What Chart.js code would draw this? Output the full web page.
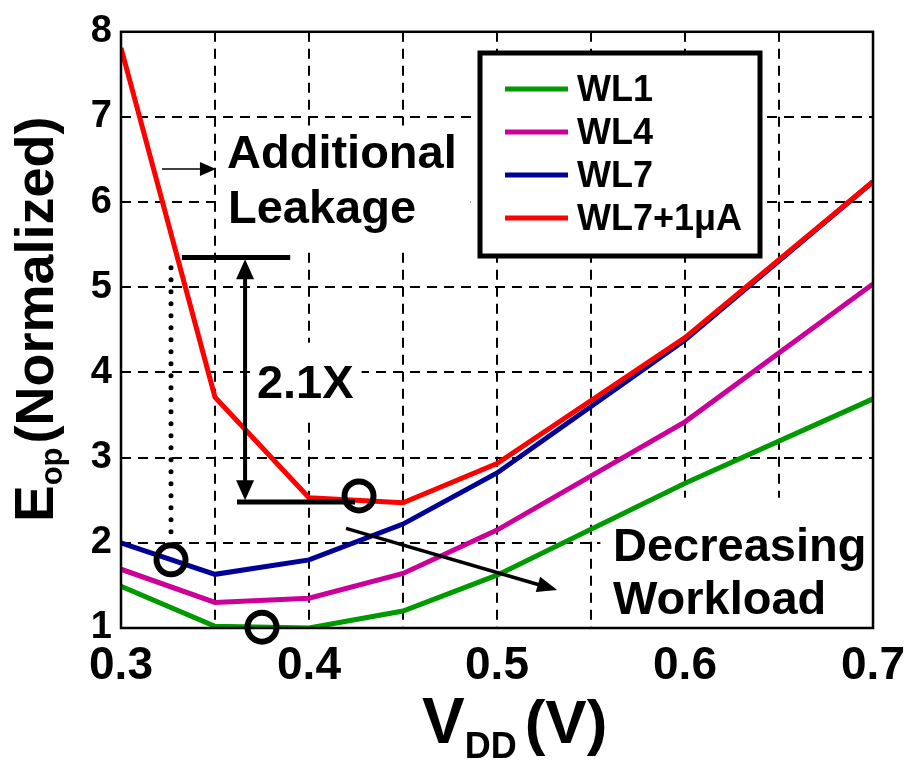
<!DOCTYPE html>
<html>
<head>
<meta charset="utf-8">
<script src="https://cdn.jsdelivr.net/npm/chart.js@4.4.1/dist/chart.umd.min.js"></script>
<style>
  body { margin: 0; background: #fff; }
  canvas { display: block; }
</style>
</head>
<body>
<canvas id="chart" width="922" height="760"></canvas>
<script>
// supply voltage (V)
const vdd = [0.3, 0.35, 0.4, 0.45, 0.5, 0.6, 0.7];
// normalized energy per operation
const wl1 = [1.49, 1.02, 1.00, 1.20, 1.62, 2.70, 3.69];
const wl4 = [1.69, 1.30, 1.35, 1.64, 2.15, 3.42, 5.04];
const wl7 = [2.00, 1.63, 1.80, 2.22, 2.82, 4.38, 6.24];
const wl7leak = [7.81, 3.71, 2.53, 2.47, 2.93, 4.41, 6.24];

const seriesNames = ['WL1', 'WL4', 'WL7', 'WL7+1\u03bcA'];
const seriesColors = ['#009900', '#cc0099', '#000099', '#ff0000'];
const xTicks = [0.3, 0.4, 0.5, 0.6, 0.7];

const FONT = '"Liberation Sans", Arial, sans-serif';

const toPoints = ys => ys.map((y, i) => ({ x: vdd[i], y: y }));

// white boxes behind the notes (data units: x1, x2, y1, y2)
const noteBoxes = [
  [0.352, 0.486, 6.9, 5.45],
  [0.369, 0.428, 4.35, 3.44],
  [0.555, 0.7, 2.53, 1.0]
];

function arrowHead(ctx, x1, y1, x2, y2, len, half) {
  const a = Math.atan2(y2 - y1, x2 - x1);
  ctx.beginPath();
  ctx.moveTo(x2, y2);
  ctx.lineTo(x2 - len * Math.cos(a) + half * Math.sin(a), y2 - len * Math.sin(a) - half * Math.cos(a));
  ctx.lineTo(x2 - len * Math.cos(a) - half * Math.sin(a), y2 - len * Math.sin(a) + half * Math.cos(a));
  ctx.closePath();
  ctx.fill();
}

const overlay = {
  id: 'overlay',
  beforeDatasetsDraw(chart) {
    const ctx = chart.ctx, sx = chart.scales.x, sy = chart.scales.y;
    ctx.save();
    ctx.fillStyle = '#fff';
    noteBoxes.forEach(b => {
      const x1 = sx.getPixelForValue(b[0]), x2 = sx.getPixelForValue(b[1]);
      const y1 = sy.getPixelForValue(b[2]), y2 = sy.getPixelForValue(b[3]);
      ctx.fillRect(x1, y1, x2 - x1, y2 - y1);
    });
    ctx.restore();
  },
  afterDatasetsDraw(chart) {
    const ctx = chart.ctx, sx = chart.scales.x, sy = chart.scales.y;
    const X = v => sx.getPixelForValue(v), Y = v => sy.getPixelForValue(v);
    const area = chart.chartArea;
    ctx.save();
    ctx.strokeStyle = '#000';
    ctx.fillStyle = '#000';

    // frame
    ctx.lineWidth = 2.5;
    ctx.strokeRect(area.left, area.top, area.right - area.left, area.bottom - area.top);

    // small arrow to "Additional Leakage"
    ctx.lineWidth = 1.5;
    ctx.beginPath();
    ctx.moveTo(X(0.3218), Y(6.39));
    ctx.lineTo(X(0.345), Y(6.39));
    ctx.stroke();
    arrowHead(ctx, X(0.3218), Y(6.39), X(0.3505), Y(6.39), 16, 7);

    // 2.1X bracket
    ctx.lineWidth = 5;
    ctx.beginPath();
    ctx.moveTo(X(0.3324), Y(5.35));
    ctx.lineTo(X(0.39), Y(5.35));
    ctx.moveTo(X(0.3617), Y(2.48));
    ctx.lineTo(X(0.4245), Y(2.48));
    ctx.stroke();
    ctx.lineWidth = 4;
    ctx.beginPath();
    ctx.moveTo(X(0.366), Y(5.1));
    ctx.lineTo(X(0.366), Y(2.7));
    ctx.stroke();
    arrowHead(ctx, X(0.366), Y(4), X(0.366), Y(5.33), 20, 9);
    arrowHead(ctx, X(0.366), Y(4), X(0.366), Y(2.50), 20, 9);

    // dotted drop line
    ctx.lineWidth = 5;
    ctx.lineCap = 'round';
    ctx.setLineDash([0, 12]);
    ctx.beginPath();
    ctx.moveTo(X(0.3266), Y(5.23));
    ctx.lineTo(X(0.3266), Y(2.11));
    ctx.stroke();
    ctx.setLineDash([]);
    ctx.lineCap = 'butt';

    // circles marking the optimum points
    ctx.lineWidth = 6;
    [[0.4266, 2.55], [0.3266, 1.8], [0.375, 1.01]].forEach(c => {
      ctx.beginPath();
      ctx.arc(X(c[0]), Y(c[1]), 14.5, 0, Math.PI * 2);
      ctx.stroke();
    });

    // decreasing workload arrow
    ctx.lineWidth = 3.5;
    ctx.beginPath();
    ctx.moveTo(X(0.4197), Y(2.17));
    ctx.lineTo(X(0.525), Y(1.49));
    ctx.stroke();
    arrowHead(ctx, X(0.4197), Y(2.17), X(0.532), Y(1.446), 20, 8);

    // notes
    ctx.font = 'bold 47px ' + FONT;
    ctx.textAlign = 'left';
    ctx.textBaseline = 'alphabetic';
    ctx.fillText('Additional', X(0.3564), Y(6.405));
    ctx.fillText('Leakage', X(0.3569), Y(5.76));
    ctx.fillText('2.1X', X(0.3723), Y(3.697));
    ctx.fillText('Decreasing', X(0.5617), Y(1.786));
    ctx.fillText('Workload', X(0.5617), Y(1.16));

    // legend
    const lx1 = 480, ly1 = 53, lx2 = 760, ly2 = 256;
    ctx.fillStyle = '#fff';
    ctx.fillRect(lx1, ly1, lx2 - lx1, ly2 - ly1);
    ctx.lineWidth = 5;
    ctx.strokeRect(lx1, ly1, lx2 - lx1, ly2 - ly1);
    ctx.font = 'bold 36px ' + FONT;
    ctx.textBaseline = 'middle';
    chart.data.datasets.forEach((ds, i) => {
      const yy = 89 + i * 43;
      ctx.strokeStyle = ds.borderColor;
      ctx.lineWidth = 5;
      ctx.beginPath();
      ctx.moveTo(505, yy);
      ctx.lineTo(568, yy);
      ctx.stroke();
      ctx.fillStyle = '#000';
      ctx.fillText(ds.label, 577, yy + 2);
    });

    // axis titles
    ctx.fillStyle = '#000';
    ctx.textBaseline = 'alphabetic';
    ctx.font = 'bold 64px ' + FONT;
    let tx = 422;
    ctx.fillText('V', tx, 743);
    tx += ctx.measureText('V').width;
    ctx.font = 'bold 36px ' + FONT;
    ctx.fillText('DD', tx, 758);
    tx += ctx.measureText('DD').width + 8;
    ctx.font = 'bold 62px ' + FONT;
    ctx.fillText('(V)', tx, 743);

    ctx.translate(53, 522);
    ctx.rotate(-Math.PI / 2);
    ctx.font = 'bold 55px ' + FONT;
    let ty = 0;
    ctx.fillText('E', ty, 0);
    ty += ctx.measureText('E').width;
    ctx.font = 'bold 31px ' + FONT;
    ctx.fillText('op', ty, 9);
    ty += ctx.measureText('op').width + 4;
    ctx.font = 'bold 54px ' + FONT;
    ctx.fillText('(Normalized)', ty, 0);

    ctx.restore();
  }
};

const datasets = [wl1, wl4, wl7, wl7leak].map((ys, i) => ({
  label: seriesNames[i],
  data: toPoints(ys),
  borderColor: seriesColors[i],
  backgroundColor: seriesColors[i],
  borderWidth: 5,
  pointRadius: 0,
  tension: 0,
  fill: false,
  order: 3 - i
}));

new Chart(document.getElementById('chart'), {
  type: 'line',
  data: { datasets: datasets },
  options: {
    responsive: false,
    animation: false,
    layout: { padding: { top: 31, right: 49, left: 0, bottom: 0 } },
    plugins: { legend: { display: false }, tooltip: { enabled: false } },
    scales: {
      x: {
        type: 'linear',
        min: 0.3,
        max: 0.7,
        afterFit: s => { s.height = 132; },
        ticks: {
          stepSize: 0.05,
          autoSkip: false,
          maxRotation: 0,
          padding: 11,
          color: '#000',
          font: { family: FONT, size: 46, weight: 'bold' },
          callback: v => {
            const t = xTicks.find(k => Math.abs(k - v) < 1e-6);
            return t === undefined ? '' : t.toFixed(1);
          }
        },
        grid: { color: '#000', lineWidth: 2, drawTicks: false },
        border: { display: false, dash: [10, 7] }
      },
      y: {
        min: 1,
        max: 8,
        afterFit: s => { s.width = 121; },
        ticks: {
          stepSize: 1,
          autoSkip: false,
          padding: 9,
          color: '#000',
          font: { family: FONT, size: 38, weight: 'bold' }
        },
        grid: { color: '#000', lineWidth: 2, drawTicks: false },
        border: { display: false, dash: [10, 7] }
      }
    }
  },
  plugins: [overlay]
});
</script>
</body>
</html>
